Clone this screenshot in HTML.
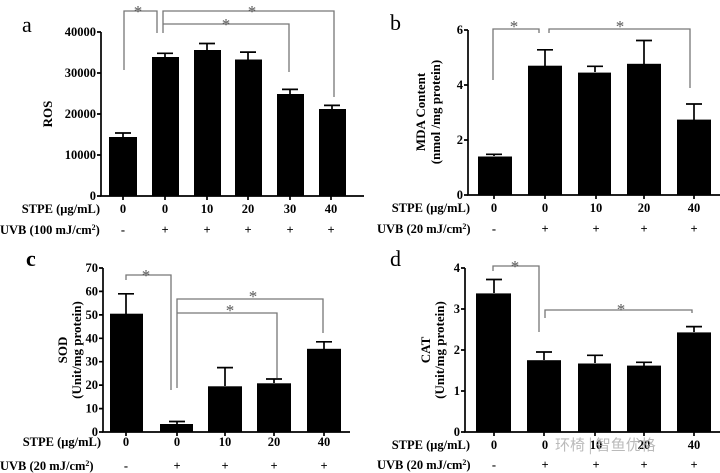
<!DOCTYPE html>
<html><head><meta charset="utf-8"><style>
body{margin:0;background:#fff}
svg{display:block}
text{font-family:"Liberation Serif",serif;font-weight:bold;font-size:12.5px;fill:#000}
.t{text-anchor:end}
.c{text-anchor:middle}
.L{font-weight:normal;font-size:22px}
.br{stroke:#777;stroke-width:1.3;fill:none}
.st{fill:#555;font-size:17px;font-weight:normal;text-anchor:middle}
.y{font-size:13px}
</style></head><body>
<svg width="720" height="473" viewBox="0 0 720 473">
<g stroke="#000" stroke-width="1.7" fill="none">
<path d="M101,32V196H364"/>
<path d="M97,32H101M97,73H101M97,114H101M97,155H101M97,196H101"/>
<path d="M123,196v4M165,196v4M207,196v4M248,196v4M290,196v4M331,196v4"/>
<path d="M468,30V195H720"/>
<path d="M464,30H468M464,85H468M464,140H468M464,195H468"/>
<path d="M494,195v4M545,195v4M596,195v4M644,195v4M694,195v4"/>
<path d="M103,268V432H350"/>
<path d="M99,268H103M99,291.4H103M99,314.9H103M99,338.3H103M99,361.7H103M99,385.1H103M99,408.6H103M99,432H103"/>
<path d="M126,432v4M177,432v4M225,432v4M274,432v4M324,432v4"/>
<path d="M465,268V432H720"/>
<path d="M461,268H465M461,309H465M461,350H465M461,391H465M461,432H465"/>
<path d="M494,432v4M544,432v4M595,432v4M644,432v4M694,432v4"/>
<path d="M123,137V133M115,133H131 M165,57V53.3M157,53.3H173 M207,50V43.5M199,43.5H215 M248,59.5V52.1M240,52.1H256 M290,94V89.4M282,89.4H298 M332,109V105.4M324,105.4H340"/>
<path d="M494,156V154.3M486,154.3H502 M545,66V49.8M537,49.8H553 M595,72V66.3M587,66.3H603 M644,64V40.5M636,40.5H652 M694,120V104M686,104H702"/>
<path d="M126,314V293.8M118,293.8H134 M177,424V421.5M169,421.5H185 M225,386V367.6M217,367.6H233 M274,383V379M266,379H282 M324,349V341.8M316,341.8H332"/>
<path d="M494,293V279.5M486,279.5H502 M544,360V352M536,352H552 M595,363V355.3M587,355.3H603 M644,366V362.3M636,362.3H652 M694,332V326.6M686,326.6H702"/>
</g>
<g fill="#000">
<rect x="109" y="137" width="28" height="59"/>
<rect x="152" y="57" width="27" height="139"/>
<rect x="194" y="50" width="27" height="146"/>
<rect x="235" y="59.5" width="27" height="136.5"/>
<rect x="277" y="94" width="27" height="102"/>
<rect x="319" y="109" width="27" height="87"/>
<rect x="478" y="156.5" width="34" height="38.5"/>
<rect x="528" y="65.7" width="34" height="129.3"/>
<rect x="578" y="72.6" width="33" height="122.4"/>
<rect x="627" y="63.8" width="34" height="131.2"/>
<rect x="677" y="119.6" width="34" height="75.4"/>
<rect x="110" y="313.7" width="33" height="118.3"/>
<rect x="160" y="424" width="33" height="8"/>
<rect x="208" y="386.3" width="34" height="45.7"/>
<rect x="257" y="383.3" width="34" height="48.7"/>
<rect x="307" y="348.8" width="34" height="83.2"/>
<rect x="476" y="293.4" width="35" height="138.6"/>
<rect x="527" y="360.2" width="34" height="71.8"/>
<rect x="578" y="363.5" width="33" height="68.5"/>
<rect x="627" y="365.6" width="34" height="66.4"/>
<rect x="677" y="332.4" width="34" height="99.6"/>
</g>
<path class="br" d="M124,70V11H157V33 M163,33V11H334V97 M163,24H289V72"/>
<path class="br" d="M493,80V29H539V33 M549,33V29H690V88"/>
<path class="br" d="M126,280V275H171V390 M177,388V299H323V333 M177,313H277V378"/>
<path class="br" d="M493,271V266H539V332 M545,318V310H692V313"/>
<text class="st" x="138" y="17">*</text><text class="st" x="252" y="17">*</text><text class="st" x="226" y="30">*</text>
<text class="st" x="514" y="32">*</text><text class="st" x="620" y="32">*</text>
<text class="st" x="146" y="281">*</text><text class="st" x="253" y="302">*</text><text class="st" x="230" y="316">*</text>
<text class="st" x="515" y="272">*</text><text class="st" x="621" y="315">*</text>
<text class="L" x="22" y="32">a</text><text class="L" x="390" y="30">b</text>
<text class="L" x="26" y="266" style="font-weight:bold">c</text><text class="L" x="390" y="266">d</text>
<text class="t" x="96" y="36">40000</text><text class="t" x="96" y="77">30000</text><text class="t" x="96" y="118">20000</text><text class="t" x="96" y="159">10000</text><text class="t" x="96" y="200">0</text>
<text class="t" x="463" y="34">6</text><text class="t" x="463" y="89">4</text><text class="t" x="463" y="144">2</text><text class="t" x="463" y="199">0</text>
<text class="t" x="98" y="272">70</text><text class="t" x="98" y="295.4">60</text><text class="t" x="98" y="318.9">50</text><text class="t" x="98" y="342.3">40</text><text class="t" x="98" y="365.7">30</text><text class="t" x="98" y="389.1">20</text><text class="t" x="98" y="412.6">10</text><text class="t" x="98" y="436">0</text>
<text class="t" x="460" y="272">4</text><text class="t" x="460" y="313">3</text><text class="t" x="460" y="354">2</text><text class="t" x="460" y="395">1</text><text class="t" x="460" y="436">0</text>
<text class="c y" transform="translate(52,114) rotate(-90)">ROS</text>
<text class="c y" transform="translate(425,112) rotate(-90)">MDA Content</text>
<text class="c y" transform="translate(440,112) rotate(-90)">(nmol /mg protein)</text>
<text class="c y" transform="translate(67,350) rotate(-90)">SOD</text>
<text class="c y" transform="translate(81,350) rotate(-90)">(Unit/mg protein)</text>
<text class="c y" transform="translate(430,350) rotate(-90)">CAT</text>
<text class="c y" transform="translate(444,350) rotate(-90)">(Unit/mg protein)</text>
<text class="t" x="100" y="213">STPE (μg/mL)</text>
<text x="0" y="234">UVB (100 mJ/cm<tspan font-size="8" dy="-4">2</tspan><tspan dy="4">)</tspan></text>
<text class="c" x="123" y="213">0</text><text class="c" x="165" y="213">0</text><text class="c" x="207" y="213">10</text><text class="c" x="248" y="213">20</text><text class="c" x="290" y="213">30</text><text class="c" x="331" y="213">40</text>
<text class="c" x="123" y="234">-</text><text class="c" x="165" y="234">+</text><text class="c" x="207" y="234">+</text><text class="c" x="248" y="234">+</text><text class="c" x="290" y="234">+</text><text class="c" x="331" y="234">+</text>
<text class="t" x="470" y="212">STPE (μg/mL)</text>
<text x="377" y="233">UVB (20 mJ/cm<tspan font-size="8" dy="-4">2</tspan><tspan dy="4">)</tspan></text>
<text class="c" x="494" y="212">0</text><text class="c" x="545" y="212">0</text><text class="c" x="596" y="212">10</text><text class="c" x="644" y="212">20</text><text class="c" x="694" y="212">40</text>
<text class="c" x="494" y="233">-</text><text class="c" x="545" y="233">+</text><text class="c" x="596" y="233">+</text><text class="c" x="644" y="233">+</text><text class="c" x="694" y="233">+</text>
<text class="t" x="101" y="446">STPE (μg/mL)</text>
<text x="0" y="470">UVB (20 mJ/cm<tspan font-size="8" dy="-4">2</tspan><tspan dy="4">)</tspan></text>
<text class="c" x="126" y="446">0</text><text class="c" x="177" y="446">0</text><text class="c" x="225" y="446">10</text><text class="c" x="274" y="446">20</text><text class="c" x="324" y="446">40</text>
<text class="c" x="126" y="470">-</text><text class="c" x="177" y="470">+</text><text class="c" x="225" y="470">+</text><text class="c" x="274" y="470">+</text><text class="c" x="324" y="470">+</text>
<text class="t" x="470" y="449">STPE (μg/mL)</text>
<text x="377" y="469">UVB (20 mJ/cm<tspan font-size="8" dy="-4">2</tspan><tspan dy="4">)</tspan></text>
<text class="c" x="494" y="449">0</text><text class="c" x="545" y="449">0</text><text class="c" x="596" y="449">10</text><text class="c" x="644" y="449">20</text><text class="c" x="694" y="449">40</text>
<text class="c" x="494" y="469">-</text><text class="c" x="545" y="469">+</text><text class="c" x="596" y="469">+</text><text class="c" x="644" y="469">+</text><text class="c" x="694" y="469">+</text>
<text x="555" y="450" style="font-family:'Noto Sans CJK SC',sans-serif;font-weight:normal;font-size:15px;fill:#aaa;opacity:.8">环椅 | 智鱼优格</text>
</svg>
</body></html>
